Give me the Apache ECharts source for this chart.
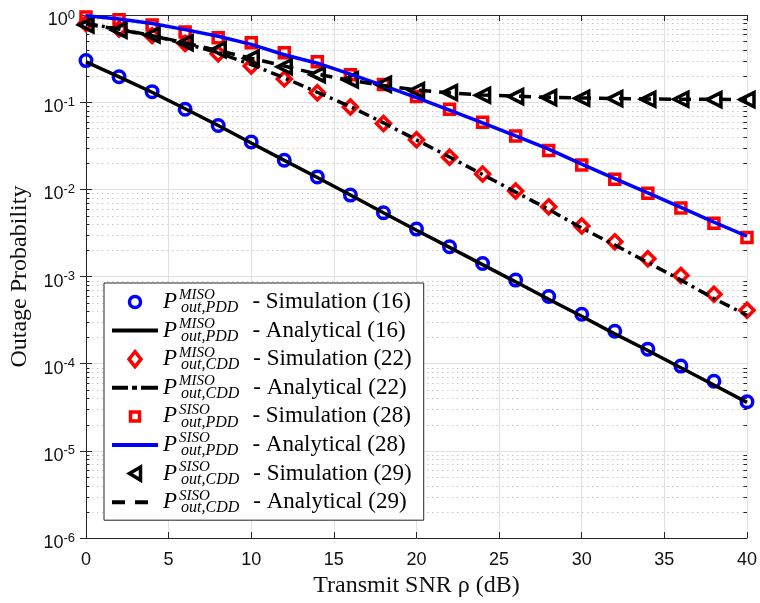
<!DOCTYPE html>
<html>
<head>
<meta charset="utf-8">
<script src="https://cdn.jsdelivr.net/npm/echarts@6/dist/echarts.min.js"></script>
<style>
  html, body { margin: 0; padding: 0; background: #ffffff; }
  #chart { width: 760px; height: 603px; }
</style>
</head>
<body>
<div id="chart"></div>
<script>
// Transmit SNR grid (dB)
const snrDb = [0, 2, 4, 6, 8, 10, 12, 14, 16, 18, 20, 22, 24, 26, 28, 30, 32, 34, 36, 38, 40];

// MISO, PDD
const misoPddSim = [0.30, 0.196, 0.132, 0.083, 0.054, 0.035, 0.0216, 0.0139, 0.0086, 0.0054, 0.0035, 0.0022, 0.00141, 0.00091, 0.00059, 0.00037, 0.000236, 0.000147, 0.000094, 0.000063, 0.0000367];
const misoPddAna = [0.29, 0.195, 0.130, 0.084, 0.054, 0.034, 0.0215, 0.0137, 0.0086, 0.0054, 0.0034, 0.00216, 0.00137, 0.00087, 0.00055, 0.00035, 0.00022, 0.000142, 0.000090, 0.000057, 0.0000360];

// MISO, CDD
const misoCddSim = [0.80, 0.69, 0.58, 0.47, 0.36, 0.26, 0.185, 0.128, 0.088, 0.057, 0.037, 0.0234, 0.015, 0.0096, 0.0063, 0.0038, 0.0025, 0.0016, 0.00103, 0.000625, 0.00041];
const misoCddAna = [0.80, 0.69, 0.58, 0.47, 0.37, 0.27, 0.19, 0.13, 0.089, 0.058, 0.037, 0.0235, 0.0148, 0.0093, 0.0059, 0.0036, 0.0023, 0.00145, 0.00091, 0.00056, 0.00036];

// SISO, PDD
const sisoPddSim = [0.95, 0.88, 0.77, 0.64, 0.547, 0.48, 0.37, 0.29, 0.207, 0.16, 0.116, 0.083, 0.059, 0.041, 0.028, 0.019, 0.0131, 0.0090, 0.0061, 0.0041, 0.0028];
const sisoPddAna = [0.98, 0.90, 0.80, 0.68, 0.57, 0.46, 0.35, 0.28, 0.21, 0.155, 0.113, 0.081, 0.058, 0.041, 0.029, 0.0195, 0.0133, 0.0091, 0.0062, 0.0042, 0.0029];

// SISO, CDD
const sisoCddSim = [0.77, 0.67, 0.59, 0.48, 0.40, 0.32, 0.255, 0.207, 0.18, 0.16, 0.136, 0.129, 0.120, 0.116, 0.113, 0.111, 0.110, 0.108, 0.108, 0.107, 0.107];
const sisoCddAna = [0.79, 0.68, 0.58, 0.48, 0.39, 0.32, 0.26, 0.21, 0.178, 0.155, 0.138, 0.128, 0.121, 0.117, 0.114, 0.112, 0.110, 0.109, 0.108, 0.108, 0.107];

// Axis ranges and log-decade minor positions
const xRange = [0, 40];
const xStep = 5;
const yRange = [1e-6, 1];
const decadeExponents = [-6, -5, -4, -3, -2, -1];
const minorMultipliers = [2, 3, 4, 5, 6, 7, 8, 9];

// Legend entries: [superscript, subscript, trailing text]
const legendRows = {
  misoPddSim: ['MISO', 'out,PDD', '- Simulation (16)'],
  misoPddAna: ['MISO', 'out,PDD', '- Analytical (16)'],
  misoCddSim: ['MISO', 'out,CDD', '- Simulation (22)'],
  misoCddAna: ['MISO', 'out,CDD', '- Analytical (22)'],
  sisoPddSim: ['SISO', 'out,PDD', '- Simulation (28)'],
  sisoPddAna: ['SISO', 'out,PDD', '- Analytical (28)'],
  sisoCddSim: ['SISO', 'out,CDD', '- Simulation (29)'],
  sisoCddAna: ['SISO', 'out,CDD', '- Analytical (29)']
};

// Legend marker glyphs inside a 46x20 icon box (the leading moves fix the box extent)
const ICON_BOX = 'M0 0 M46 20 ';
const legendIcons = {
  misoPddSim: ICON_BOX + 'M28.5 10 A5.5 5.5 0 1 1 17.5 10 A5.5 5.5 0 1 1 28.5 10 Z',
  misoCddSim: ICON_BOX + 'M23 2.5 L29 10 L23 17.5 L17 10 Z',
  sisoPddSim: ICON_BOX + 'M18.5 5.5 L27.5 5.5 L27.5 14.5 L18.5 14.5 Z',
  sisoCddSim: ICON_BOX + 'M17.5 10 L28.5 3.5 L28.5 16.5 Z'
};
// Legend line samples
const legendDashes = {
  misoPddAna: 'solid',
  misoCddAna: [16, 4, 5, 4, 17],
  sisoPddAna: 'solid',
  sisoCddAna: [13, 10]
};

const pairs = ys => snrDb.map((x, i) => [x, ys[i]]);

const minorValues = [];
decadeExponents.forEach(e => minorMultipliers.forEach(m => minorValues.push([xRange[0], m * Math.pow(10, e)])));

const AX = '#262626';
const SERIF = '"Liberation Serif", "Times New Roman", serif';
const SANS = '"Liberation Sans", Arial, Helvetica, sans-serif';

function hollow(color) {
  return { color: 'rgba(0,0,0,0)', borderColor: color, borderWidth: 3.5, opacity: 1 };
}

const legendData = Object.keys(legendRows).map(name => (
  legendIcons[name]
    ? { name: name, icon: 'path://' + legendIcons[name], itemStyle: { borderWidth: 3.5, opacity: 1 } }
    : { name: name, itemStyle: { opacity: 0 }, lineStyle: { width: 4, type: legendDashes[name] } }
));

const chart = echarts.init(document.getElementById('chart'), null, { renderer: 'canvas' });

const option = {
  animation: false,
  backgroundColor: '#ffffff',
  grid: { left: 83, right: 11, top: 15, bottom: 62, containLabel: false },
  xAxis: [
    {
      type: 'value', min: xRange[0], max: xRange[1], interval: xStep,
      position: 'bottom',
      name: 'Transmit SNR \u03C1 (dB)', nameLocation: 'middle', nameGap: 34,
      nameTextStyle: { fontFamily: SERIF, fontSize: 24, color: '#111' },
      axisLine: { show: true, onZero: false, lineStyle: { color: AX, width: 1 } },
      axisTick: { show: true, inside: true, length: 6, lineStyle: { color: AX } },
      axisLabel: { fontFamily: SANS, fontSize: 18, color: '#111', margin: 13 },
      splitLine: { show: true, lineStyle: { color: '#e0e0e0', width: 1 } }
    },
    {
      type: 'value', min: xRange[0], max: xRange[1], interval: xStep,
      position: 'top',
      axisLine: { show: true, onZero: false, lineStyle: { color: AX, width: 1 } },
      axisTick: { show: true, inside: true, length: 6, lineStyle: { color: AX } },
      axisLabel: { show: false },
      splitLine: { show: false }
    }
  ],
  yAxis: [
    {
      type: 'log', logBase: 10, min: yRange[0], max: yRange[1],
      position: 'left',
      name: 'Outage Probability', nameLocation: 'middle', nameGap: 54, nameRotate: 90,
      nameTextStyle: { fontFamily: SERIF, fontSize: 24, color: '#111' },
      axisLine: { show: true, lineStyle: { color: AX, width: 1 } },
      axisTick: { show: true, inside: true, length: 6, lineStyle: { color: AX } },
      axisLabel: {
        margin: 11,
        formatter: v => '{b|10}{e|' + Math.round(Math.log10(v)) + '}',
        rich: {
          b: { fontFamily: SANS, fontSize: 18, color: '#111', lineHeight: 16, verticalAlign: 'bottom' },
          e: { fontFamily: SANS, fontSize: 13, color: '#111', lineHeight: 28, verticalAlign: 'middle' }
        }
      },
      splitLine: { show: true, lineStyle: { color: '#e0e0e0', width: 1 } }
    },
    {
      type: 'log', logBase: 10, min: yRange[0], max: yRange[1],
      position: 'right',
      axisLine: { show: true, lineStyle: { color: AX, width: 1 } },
      axisTick: { show: true, inside: true, length: 6, lineStyle: { color: AX } },
      axisLabel: { show: false },
      splitLine: { show: false }
    }
  ],
  legend: {
    orient: 'vertical',
    left: 104, top: 283,
    padding: [5, 12, 4, 6],
    itemGap: 0.6,
    itemWidth: 46, itemHeight: 20,
    backgroundColor: '#ffffff',
    borderColor: AX, borderWidth: 1, borderRadius: 0,
    selectedMode: false,
    data: legendData,
    formatter: name => {
      const r = legendRows[name];
      return '{P|P}{sup|' + r[0] + '}{sub|' + r[1] + '}{rest|' + r[2] + '}';
    },
    textStyle: {
      rich: {
        P: { fontFamily: SERIF, fontStyle: 'italic', fontSize: 23, lineHeight: 28, color: '#000', verticalAlign: 'middle' },
        sup: { fontFamily: SERIF, fontStyle: 'italic', fontSize: 15, lineHeight: 13, color: '#000', verticalAlign: 'top', width: 1, padding: [0, 0, 0, 2] },
        sub: { fontFamily: SERIF, fontStyle: 'italic', fontSize: 16, lineHeight: 13, color: '#000', verticalAlign: 'bottom', padding: [0, 0, 0, 1] },
        rest: { fontFamily: SERIF, fontSize: 23, lineHeight: 28, color: '#000', verticalAlign: 'middle', padding: [0, 0, 0, 14] }
      }
    }
  },
  series: [
    {
      // dotted minor grid with inward minor ticks on both vertical frame sides
      type: 'custom', silent: true, z: 1, xAxisIndex: 0, yAxisIndex: 0,
      data: minorValues,
      encode: { x: 0, y: 1 },
      renderItem: (params, api) => {
        const v = api.value(1);
        const a = api.coord([xRange[0], v]);
        const b = api.coord([xRange[1], v]);
        const y = Math.round(a[1]) + 0.5;
        return {
          type: 'group',
          children: [
            { type: 'line', shape: { x1: a[0] + 1, y1: y, x2: b[0] - 1, y2: y }, style: { stroke: '#c8c8c8', lineWidth: 1, lineDash: [1.5, 3.5] } },
            { type: 'line', shape: { x1: a[0], y1: y, x2: a[0] + 3.5, y2: y }, style: { stroke: AX, lineWidth: 1 } },
            { type: 'line', shape: { x1: b[0] - 3.5, y1: y, x2: b[0], y2: y }, style: { stroke: AX, lineWidth: 1 } }
          ]
        };
      }
    },
    {
      name: 'misoPddSim', type: 'scatter', data: pairs(misoPddSim),
      symbol: 'circle', symbolSize: 11.5, itemStyle: hollow('#0000ff')
    },
    {
      name: 'misoPddAna', type: 'line', data: pairs(misoPddAna), symbol: 'none',
      lineStyle: { color: '#000000', width: 3.5 }, itemStyle: { color: '#000000' }
    },
    {
      name: 'misoCddSim', type: 'scatter', data: pairs(misoCddSim),
      symbol: 'diamond', symbolSize: 14, itemStyle: hollow('#ff0000')
    },
    {
      name: 'misoCddAna', type: 'line', data: pairs(misoCddAna), symbol: 'none',
      lineStyle: { color: '#000000', width: 3.5, type: [11, 5, 3, 5] }, itemStyle: { color: '#000000' }
    },
    {
      name: 'sisoPddSim', type: 'scatter', data: pairs(sisoPddSim),
      symbol: 'rect', symbolSize: 10, itemStyle: hollow('#ff0000')
    },
    {
      name: 'sisoPddAna', type: 'line', data: pairs(sisoPddAna), symbol: 'none',
      lineStyle: { color: '#0000ff', width: 3.5 }, itemStyle: { color: '#0000ff' }
    },
    {
      name: 'sisoCddSim', type: 'scatter', data: pairs(sisoCddSim),
      symbol: 'triangle', symbolRotate: 90, symbolSize: 14, itemStyle: hollow('#000000')
    },
    {
      name: 'sisoCddAna', type: 'line', data: pairs(sisoCddAna), symbol: 'none',
      lineStyle: { color: '#000000', width: 3.5, type: [12, 8] }, itemStyle: { color: '#000000' }
    }
  ]
};

chart.setOption(option);
</script>
</body>
</html>
